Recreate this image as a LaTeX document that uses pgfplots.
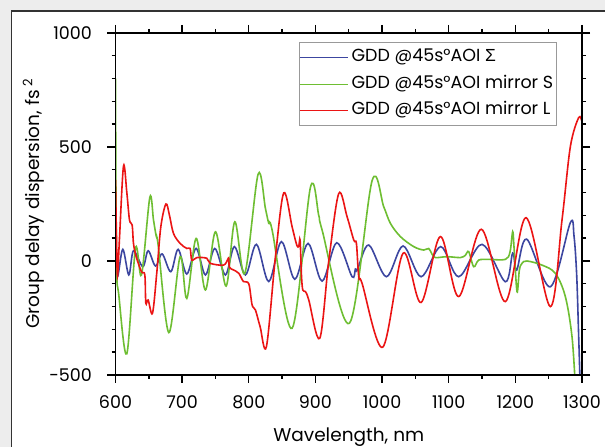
\documentclass[border=0pt]{standalone}
\usepackage{fontspec}
\setmainfont{Poppins}
\newfontfamily\greekfont{Liberation Sans}
\usepackage{pgfplots}
\pgfplotsset{compat=1.18}
\definecolor{gddblue}{RGB}{60,70,160}
\definecolor{gddgreen}{RGB}{110,190,50}
\definecolor{gddred}{RGB}{235,20,20}
\definecolor{panelgray}{RGB}{237,237,237}
\begin{document}
\begin{tikzpicture}
\fill[panelgray] (0,0) rectangle (605pt,447pt);
\fill[white] (11.5pt,0) rectangle (605pt,436pt);
\draw[black!80,line width=1.2pt] (11.5pt,0) -- (11.5pt,436pt) -- (605pt,436pt);
\begin{axis}[
  name=ax,
  at={(115.5pt,72pt)}, anchor=south west,
  width=466.5pt, height=342pt, scale only axis,
  xmin=600, xmax=1300, ymin=-500, ymax=1000,
  xtick={600,700,...,1300}, ytick={-500,0,500,1000},
  minor x tick num=1, minor y tick num=4,
  tick align=outside,
  major tick length=8pt, minor tick length=4pt,
  major tick style={black, line width=1.4pt},
  minor tick style={black, line width=1.4pt},
  axis line style={black, line width=1.8pt},
  /pgf/number format/assume math mode=true,
  /pgf/number format/1000 sep={},
  tick label style={font=\fontsize{17.5}{20}\selectfont},
  xticklabel style={yshift=-9pt},
  yticklabel style={xshift=-12pt},
  xlabel={Wavelength, nm},
  ylabel={Group delay dispersion, fs\,\raisebox{0.75ex}{\fontsize{13}{13}\selectfont 2}},
  every axis x label/.style={at={(axis description cs:0.5,-0.193)}, anchor=base,
    font=\fontsize{18.5}{22}\selectfont},
  every axis y label/.style={at={(axis description cs:-0.162,0.5)}, anchor=base, rotate=90,
    font=\fontsize{18.5}{22}\selectfont},
  legend style={at={(0.3934,0.9737)}, anchor=north west, draw=black!40, line width=0.9pt,
    inner xsep=0pt, inner ysep=2pt, row sep=0pt,
    font=\fontsize{17.5}{20}\selectfont,
    nodes={inner xsep=3pt, inner ysep=5.5pt, text height=12pt, text depth=3.5pt},
    cells={anchor=west}},
  legend image code/.code={\draw[#1, line width=1.1pt] (0pt,0pt) -- (48pt,0pt);},
  every axis plot/.append style={line width=1.6pt, smooth, tension=0.55},
]
\addplot[gddblue] coordinates {
(600,-30) (603.5,-66) (611,51) (620,-61) (627,45) (641,-25) (649,45) (660,-22)
(670,31) (683,-47) (694,51) (707,-57) (721,55) (735,-61) (749,55) (765,-61)
(778.5,63) (795,-61) (811.5,73) (830,-90) (849,85) (869,-80) (889,77) (910,-88)
(932,80) (955,-69) (960,-35) (963,-38) (980,70) (1006.5,-69) (1031.5,66)
(1058.5,-69) (1088,63) (1115,-69) (1150,73) (1185,-91) (1196,35) (1202,-40)
(1217,96) (1252.5,-113) (1282.5,168) (1288,110) (1292,-60) (1295,-330) (1298,-620)
};
\addplot[gddgreen] coordinates {
(600,800) (601.5,0) (605,-150) (617,-407) (630,55) (639,-61) (651.5,279)
(657,180) (661,110) (664,70) (680,-314) (697,19) (707,-164) (721,99) (735,-127)
(750,128) (766,-110) (779,172) (794,-54) (814,381) (825,230) (830,165) (835,136)
(865,-295) (892.5,323) (905,200) (910,136) (951,-273) (985,352) (1002.5,238)
(1012.5,165) (1027.5,107) (1047.5,63) (1062.5,48) (1070,55) (1075,30) (1080,15)
(1097.5,19) (1117.5,15) (1125,25) (1130,41) (1137.5,-25) (1145,4) (1160,7)
(1185,7) (1192,40) (1196,129) (1198,60) (1202.5,-135) (1206,-40) (1210,-10)
(1217.5,0) (1240,-18) (1260,-54) (1275,-156) (1285,-332) (1290,-551)
};
\addplot[gddred] coordinates {
(600,356) (601.5,100) (603,-67) (606,100) (612,416) (617,300) (621,180) (625,158)
(627,77) (631,19) (639,-47) (644,-61) (645.5,-185) (649,-171) (655.5,-229)
(662,-50) (668,150) (675.7,250) (681,200) (687,121) (697,77) (707,55) (712,55)
(714.5,4) (722,15) (737,12) (742,-10) (762,-18) (768.5,7) (770,12) (771,-28)
(777,-39) (785,-54) (792,-90) (800,-100) (805,-193) (810,-215) (817,-288)
(826.5,-375) (840,19) (852.5,299) (865,150) (872,70) (875,65) (877,92) (879,-60)
(881,-127) (885,-134) (890,-171) (906.5,-339) (920,0) (935,296) (947.5,194)
(957.5,92) (961.5,77) (965,-69) (970,-98) (1001,-378) (1031.5,34) (1058.5,-182)
(1087.5,107) (1115,-156) (1149,139) (1185,-178) (1216,190) (1252.5,-200)
(1270,180) (1282.5,501) (1295,629) (1300,611)
};
\legend{GDD @45s°AOI {\greekfont Σ}, GDD @45s°AOI mirror S, GDD @45s°AOI mirror L}
\end{axis}
\draw[black, line width=1.8pt] (ax.south west) -- (ax.north west) -- (ax.north east) -- (ax.south east) -- cycle;
\pgfresetboundingbox
\useasboundingbox (0,0) rectangle (605pt,447pt);
\end{tikzpicture}
\end{document}
